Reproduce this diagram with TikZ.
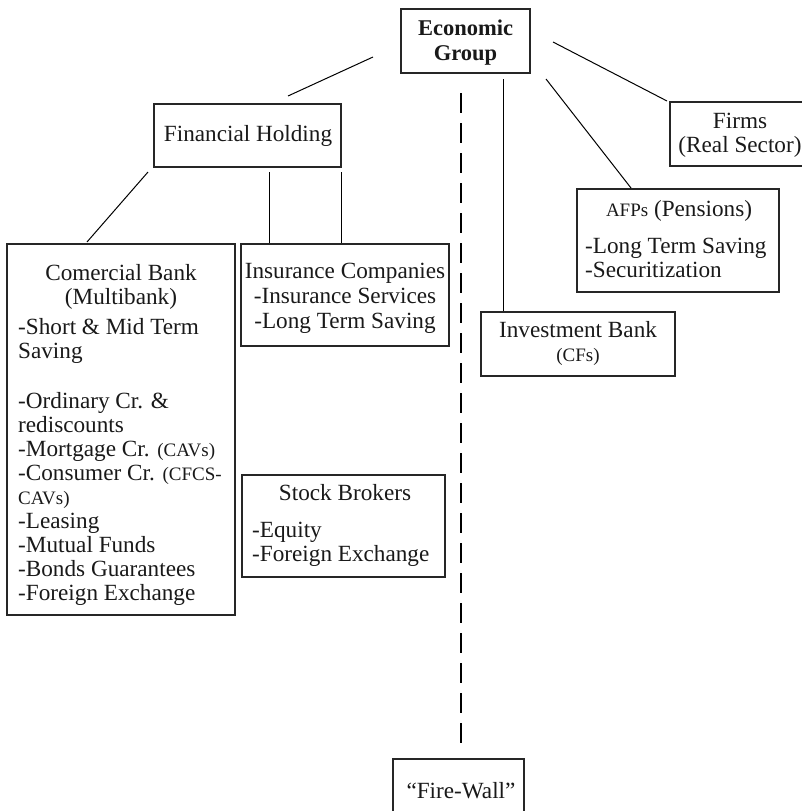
\documentclass[tikz,border=0pt]{standalone}
\usepackage{fontspec}
\setmainfont{Liberation Serif}
\newcommand{\smtxt}[1]{{\fontsize{19}{24}\selectfont #1}}
\tikzset{
  box/.style={draw=black!85, line width=1.2pt, inner sep=0pt, rectangle},
  txt/.style={inner sep=0pt, anchor=base, text=black!90, font=\fontsize{23.2}{24}\selectfont},
  txtl/.style={txt, anchor=base west},
  link/.style={line width=1pt},
  fwline/.style={line width=1.7pt, dash pattern=on 20pt off 10pt},
}
\begin{document}
\begin{tikzpicture}[x=1pt,y=-1pt]
\useasboundingbox (0,0) rectangle (802,811);
\clip (0,0) rectangle (802,811);

% boxes
\node[box, minimum width=129pt, minimum height=64pt] (eg) at (465.5,41) {};
\node[box, minimum width=187pt, minimum height=63pt] (fh) at (247.5,135.5) {};
\node[box, minimum width=140pt, minimum height=64pt] (firms) at (740,134) {};
\node[box, minimum width=202pt, minimum height=103pt] (afp) at (678,240.5) {};
\node[box, minimum width=194pt, minimum height=64pt] (ib) at (578,344) {};
\node[box, minimum width=228pt, minimum height=371pt] (cb) at (121,429.5) {};
\node[box, minimum width=208pt, minimum height=102pt] (ins) at (345,295) {};
\node[box, minimum width=203pt, minimum height=102pt] (sb) at (343.5,526) {};
\node[box, minimum width=131pt, minimum height=70pt] (fw) at (458.5,794) {};

% texts
\node[txt, font=\fontsize{22.5}{24}\selectfont\bfseries] (eg1) at (465.5,35) {Economic};
\node[txt, font=\fontsize{22.5}{24}\selectfont\bfseries] (eg2) at (465.5,60) {Group};

\node[txt] (fh1) at (248,141) {Financial Holding};

\node[txt] (fi1) at (740,128) {Firms};
\node[txt] (fi2) at (740,152) {(Real Sector)};

\node[txt] (af1) at (679,216) {\smtxt{AFPs} (Pensions)};
\node[txtl] (af2) at (585,253) {-Long Term Saving};
\node[txtl] (af3) at (585,277) {-Securitization};

\node[txt] (ib1) at (578,337) {Investment Bank};
\node[txt] (ib2) at (578,361) {\smtxt{(CFs)}};

\node[txt] (cb1) at (121,280) {Comercial Bank};
\node[txt] (cb2) at (121,304) {(Multibank)};
\node[txtl] (cb3) at (18,334) {-Short \& Mid Term};
\node[txtl] (cb4) at (18,358) {Saving};
\node[txtl] (cb5) at (18,408) {-Ordinary Cr. \&};
\node[txtl] (cb6) at (18,432) {rediscounts};
\node[txtl] (cb7) at (18,456) {-Mortgage Cr. \smtxt{(CAVs)}};
\node[txtl] (cb8) at (18,480) {-Consumer Cr. \smtxt{(CFCS-}};
\node[txtl] (cb9) at (18,504) {\smtxt{CAVs)}};
\node[txtl] (cb10) at (18,528) {-Leasing};
\node[txtl] (cb11) at (18,552) {-Mutual Funds};
\node[txtl] (cb12) at (18,576) {-Bonds Guarantees};
\node[txtl] (cb13) at (18,600) {-Foreign Exchange};

\node[txt] (in1) at (345,278) {Insurance Companies};
\node[txt] (in2) at (345,303) {-Insurance Services};
\node[txt] (in3) at (345,328) {-Long Term Saving};

\node[txt] (sb1) at (345,500) {Stock Brokers};
\node[txtl] (sb2) at (252,537) {-Equity};
\node[txtl] (sb3) at (252,561) {-Foreign Exchange};

\node[txt] (fw1) at (461,798) {“Fire-Wall”};

% connector end points
\coordinate (egFH) at (373,57);  \coordinate (fhEG) at (288,96);
\coordinate (egFI) at (553,42);  \coordinate (fiEG) at (667,101);
\coordinate (egAF) at (546,79);  \coordinate (afEG) at (631,188);
\coordinate (egIB) at (503,79);  \coordinate (ibEG) at (503,311);
\coordinate (fhCB) at (148,172); \coordinate (cbFH) at (87,242);
\coordinate (fhI1) at (269,172); \coordinate (inF1) at (269,243);
\coordinate (fhI2) at (341,172); \coordinate (inF2) at (341,243);
\coordinate (fwTop) at (461,93); \coordinate (fwBot) at (461,743);

\draw[link] (egFH) -- (fhEG);
\draw[link] (egFI) -- (fiEG);
\draw[link] (egAF) -- (afEG);
\draw[link] (egIB) -- (ibEG);
\draw[link] (fhCB) -- (cbFH);
\draw[link] (fhI1) -- (inF1);
\draw[link] (fhI2) -- (inF2);
\draw[fwline] (fwTop) -- (fwBot);
\end{tikzpicture}
\end{document}
